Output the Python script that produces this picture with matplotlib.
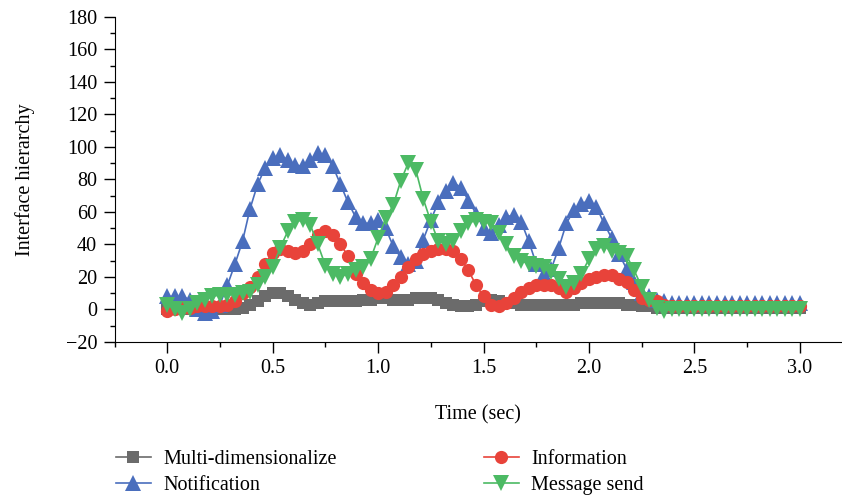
import numpy as np
import matplotlib
matplotlib.use("Agg")
import matplotlib.pyplot as plt
from matplotlib.ticker import MultipleLocator, FormatStrFormatter

plt.rcParams["font.family"] = ["Liberation Serif", "DejaVu Serif"]

# time axis: 85 samples from 0 to 3 s
time_sec = np.linspace(0.0, 3.0, 85)

multi_dim = [
    0, 0, 0, 0, 0, 0, 0, 0, 0, 0,
    1, 3, 5, 8, 10, 10, 8, 6, 4, 3,
    4, 5, 5, 5, 5, 5, 6, 6, 7, 7,
    6, 6, 6, 7, 7, 7, 6, 4, 3, 2,
    2, 3, 5, 6, 5, 4, 4, 3, 3, 3,
    3, 3, 3, 3, 3, 4, 4, 4, 4, 4,
    4, 3, 3, 2, 2, 1, 1, 1, 1, 1,
    1, 1, 1, 1, 1, 1, 1, 1, 1, 1,
    1, 1, 1, 1, 1,
]

notification = [
    8, 8, 8, 6, 0, -2, -1, 3, 15, 28,
    42, 62, 77, 87, 93, 95, 92, 89, 88, 92,
    96, 95, 88, 77, 66, 57, 53, 53, 55, 50,
    39, 32, 28, 30, 43, 55, 66, 73, 78, 75,
    67, 59, 50, 47, 52, 57, 58, 54, 42, 28,
    22, 25, 38, 53, 61, 65, 67, 63, 53, 44,
    34, 25, 17, 10, 8, 6, 5, 4, 4, 4,
    4, 4, 4, 4, 4, 4, 4, 4, 4, 4,
    4, 4, 4, 4, 4,
]

information = [
    -1, 0, 1, 1, 2, 2, 2, 2, 3, 5,
    10, 14, 20, 28, 35, 37, 36, 35, 36, 40,
    46, 48, 46, 40, 33, 22, 16, 12, 10, 11,
    15, 20, 26, 31, 34, 36, 37, 37, 36, 31,
    24, 15, 8, 3, 2, 4, 7, 11, 13, 15,
    15, 15, 13, 11, 13, 16, 19, 20, 21, 21,
    19, 17, 12, 7, 6, 5, 3, 2, 2, 2,
    2, 2, 2, 2, 2, 2, 2, 2, 2, 2,
    2, 2, 2, 2, 2,
]

message_send = [
    3, 0, -2, 0, 4, 6, 8, 9, 9, 9,
    10, 11, 15, 20, 26, 38, 48, 54, 55, 52,
    40, 27, 22, 20, 22, 24, 26, 31, 44, 56,
    64, 79, 90, 86, 68, 54, 42, 40, 42, 48,
    53, 55, 54, 53, 47, 40, 33, 30, 28, 27,
    26, 23, 19, 14, 16, 22, 31, 37, 39, 36,
    35, 33, 24, 14, 6, 1, -1, 0, 0, 0,
    0, 0, 0, 0, 0, 0, 0, 0, 0, 0,
    0, 0, 0, 0, 0,
]

series = [
    ("Multi-dimensionalize", multi_dim, "#6b6b6b", "s", 8),
    ("Notification", notification, "#4a6ebd", "^", 11),
    ("Information", information, "#e8433a", "o", 9.5),
    ("Message send", message_send, "#4cba64", "v", 11),
]

fs = 14.5

fig = plt.figure(figsize=(8.42, 4.97), dpi=100)
ax = fig.add_axes([0.136, 0.312, 0.864, 0.654])

for label, values, color, marker, ms in series:
    ax.plot(time_sec, values, color=color, marker=marker, markersize=ms,
            linewidth=1.2, markeredgewidth=0, label=label)

ax.set_xlim(-0.25, 3.2)
ax.set_ylim(-20, 180)
ax.xaxis.set_major_locator(MultipleLocator(0.5))
ax.xaxis.set_minor_locator(MultipleLocator(0.25))
ax.yaxis.set_major_locator(MultipleLocator(20))
ax.yaxis.set_minor_locator(MultipleLocator(10))
ax.xaxis.set_major_formatter(FormatStrFormatter("%.1f"))

for side in ("top", "right"):
    ax.spines[side].set_visible(False)
ax.tick_params(axis="both", which="major", direction="out", length=7.6, width=1, labelsize=fs)
ax.tick_params(axis="both", which="minor", direction="out", length=3.6, width=1)
ax.tick_params(axis="x", pad=5)
ax.tick_params(axis="y", pad=5)

ax.set_xlabel("Time (sec)", fontsize=fs, labelpad=19)
ax.set_ylabel("Interface hierarchy", fontsize=fs, labelpad=22)

handles, labels = ax.get_legend_handles_labels()
fig.legend(handles, labels, loc="upper left", bbox_to_anchor=(0.116, 0.131),
           ncol=2, frameon=False, fontsize=fs, handlelength=1.75,
           columnspacing=7.3, labelspacing=0.35, handletextpad=0.6)

fig.savefig("out.png", dpi=100)
